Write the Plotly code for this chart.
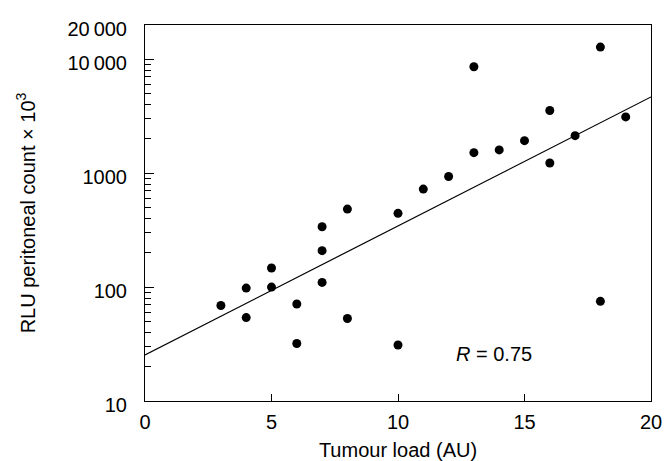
import math
import plotly.graph_objects as go

# Data
tumour_load = [3, 4, 4, 5, 5, 6, 6, 7, 7, 7, 8, 8, 10, 10, 11, 12, 13, 13, 14, 15, 16, 16, 17, 18, 18, 19]
rlu_count = [69, 98, 54, 147, 100, 71, 32, 339, 209, 110, 484, 53, 444, 31, 725, 935,
             8600, 1515, 1600, 1930, 3550, 1230, 2135, 12800, 75, 3120]

fit_x = [0, 20]
fit_y = [25.4, 4670]

x_ticks = [0, 5, 10, 15, 20]
y_ticks = [10, 100, 1000, 10000, 20000]
y_ticktext = ["10", "100", "1000", "10\u2009000", "20\u2009000"]
y_minor = [20, 30, 40, 50, 60, 70, 80, 90,
           200, 300, 400, 500, 600, 700, 800, 900,
           2000, 3000, 4000, 5000, 6000, 7000, 8000, 9000]

r_label = "<i>R</i> = 0.75"
r_pos = (13.79, 26)

FONT = "Liberation Sans, Arial, sans-serif"

fig = go.Figure()
fig.add_trace(go.Scatter(x=fit_x, y=fit_y, mode="lines",
                         line=dict(color="black", width=1.2), showlegend=False,
                         hoverinfo="skip"))
fig.add_trace(go.Scatter(x=tumour_load, y=rlu_count, mode="markers",
                         marker=dict(color="black", size=9), showlegend=False))

fig.add_annotation(x=r_pos[0], y=math.log10(r_pos[1]), text=r_label, showarrow=False,
                   font=dict(size=20, color="black", family=FONT),
                   xanchor="center", yanchor="middle")

fig.update_layout(
    width=670, height=461,
    margin=dict(l=137, r=27, t=10, b=68),
    paper_bgcolor="white", plot_bgcolor="white",
    font=dict(family=FONT, size=20, color="black"),
    xaxis=dict(
        range=[0, 20], tickvals=x_ticks, ticks="inside", ticklen=7, tickwidth=1,
        tickcolor="black", showline=True, linecolor="black", linewidth=1, mirror=True,
        showgrid=False, zeroline=False,
        title=dict(text="Tumour load (AU)", font=dict(size=20), standoff=10),
        ticklabelstandoff=3,
    ),
    yaxis=dict(
        type="log", range=[1, math.log10(20000) + 1e-9],
        tickvals=y_ticks, ticktext=y_ticktext, ticks="inside", ticklen=9, tickwidth=1,
        tickcolor="black", showline=True, linecolor="black", linewidth=1, mirror=True,
        showgrid=False, zeroline=False,
        minor=dict(tickvals=y_minor, ticks="inside", ticklen=6, tickwidth=1,
                   tickcolor="black", showgrid=False),
        title=dict(text="RLU peritoneal count \u00d7 10<sup>3</sup>", font=dict(size=20), standoff=26),
        ticklabelstandoff=13,
        ticklabeloverflow="allow",
        ticklabelshift=4,
    ),
)

fig.write_html("out.html")
